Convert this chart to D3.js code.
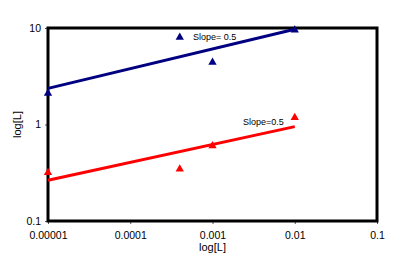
<!DOCTYPE html>
<html>
<head>
<meta charset="utf-8">
<script src="https://cdn.jsdelivr.net/npm/d3@7"></script>
<style>
  body { margin: 0; background: #fff; }
  text { font-family: "Liberation Sans", Arial, sans-serif; }
</style>
</head>
<body>
<div id="chart"></div>
<script>
// data
var xTicks = [0.00001, 0.0001, 0.001, 0.01, 0.1];
var xTickLabels = ["0.00001", "0.0001", "0.001", "0.01", "0.1"];
var yTicks = [0.1, 1, 10];
var yTickLabels = ["0.1", "1", "10"];

var blueX = [0.00001, 0.0004, 0.001, 0.01];
var blueY = [2.1, 8.0, 4.4, 9.5];
var blueFitX = [0.00001, 0.01];
var blueFitY = [2.37, 9.7];

var redX = [0.00001, 0.0004, 0.001, 0.01];
var redY = [0.317, 0.345, 0.60, 1.18];
var redFitX = [0.00001, 0.01];
var redFitY = [0.264, 0.95];

var notes = ["Slope= 0.5", "Slope=0.5"];
var noteAt = [[0.00058, 7.5], [0.00235, 0.98]];

let width = 404;
let height = 276;

let paddingLeft = 48;
let paddingRight = 27;
let paddingTop = 28;
let paddingBottom = 55;

let svg = d3.select("#chart").append("svg")
  .attr("width", width)
  .attr("height", height);

let x_scale = d3.scaleLog()
  .domain([0.00001, 0.1])
  .range([paddingLeft, width - paddingRight]);

let y_scale = d3.scaleLog()
  .domain([0.1, 10])
  .range([height - paddingBottom, paddingTop]);

// Axes
let bottom_axis = d3.axisBottom(x_scale)
  .tickValues(xTicks)
  .tickFormat((d, i) => xTickLabels[i])
  .tickSize(3)
  .tickPadding(8);

let left_axis = d3.axisLeft(y_scale)
  .tickValues(yTicks)
  .tickFormat((d, i) => yTickLabels[i])
  .tickSize(3)
  .tickPadding(4);

let gx = svg.append("g")
  .attr("transform", "translate(0," + (height - paddingBottom) + ")")
  .call(bottom_axis);
let gy = svg.append("g")
  .attr("transform", "translate(" + paddingLeft + ",0)")
  .call(left_axis);

[gx, gy].forEach(g => {
  g.select(".domain").remove();
  g.selectAll("text").style("font-size", "10.5px").style("fill", "#000");
  g.selectAll("line").style("stroke", "#555");
});

// Plot frame
svg.append("rect")
  .attr("x", paddingLeft)
  .attr("y", paddingTop)
  .attr("width", width - paddingLeft - paddingRight)
  .attr("height", height - paddingTop - paddingBottom)
  .style("fill", "none")
  .style("stroke", "#000")
  .style("stroke-width", 3);

// Axis titles
svg.append("text")
  .attr("x", (paddingLeft + width - paddingRight) / 2)
  .attr("y", 251)
  .attr("text-anchor", "middle")
  .style("font-size", "11px")
  .text("log[L]");

svg.append("text")
  .attr("transform", "translate(21," + y_scale(1) + ") rotate(-90)")
  .attr("text-anchor", "middle")
  .style("font-size", "11px")
  .text("log[L]");

let line = d3.line()
  .x(d => x_scale(d[0]))
  .y(d => y_scale(d[1]));

function drawSeries(xs, ys, fx, fy, color) {
  svg.append("path")
    .datum(fx.map((v, i) => [v, fy[i]]))
    .attr("d", line)
    .style("fill", "none")
    .style("stroke", color)
    .style("stroke-width", 3);

  svg.selectAll(null)
    .data(xs.map((v, i) => [v, ys[i]]))
    .enter().append("path")
    .attr("d", d3.symbol(d3.symbolTriangle, 30))
    .attr("transform", d => "translate(" + x_scale(d[0]) + "," + y_scale(d[1]) + ")")
    .style("fill", color);
}

drawSeries(blueX, blueY, blueFitX, blueFitY, "#000080");
drawSeries(redX, redY, redFitX, redFitY, "#ff0000");

// Slope labels
notes.forEach((t, i) => {
  svg.append("text")
    .attr("x", x_scale(noteAt[i][0]))
    .attr("y", y_scale(noteAt[i][1]))
    .style("font-size", "9px")
    .style("fill", "#000")
    .text(t);
});
</script>
</body>
</html>
